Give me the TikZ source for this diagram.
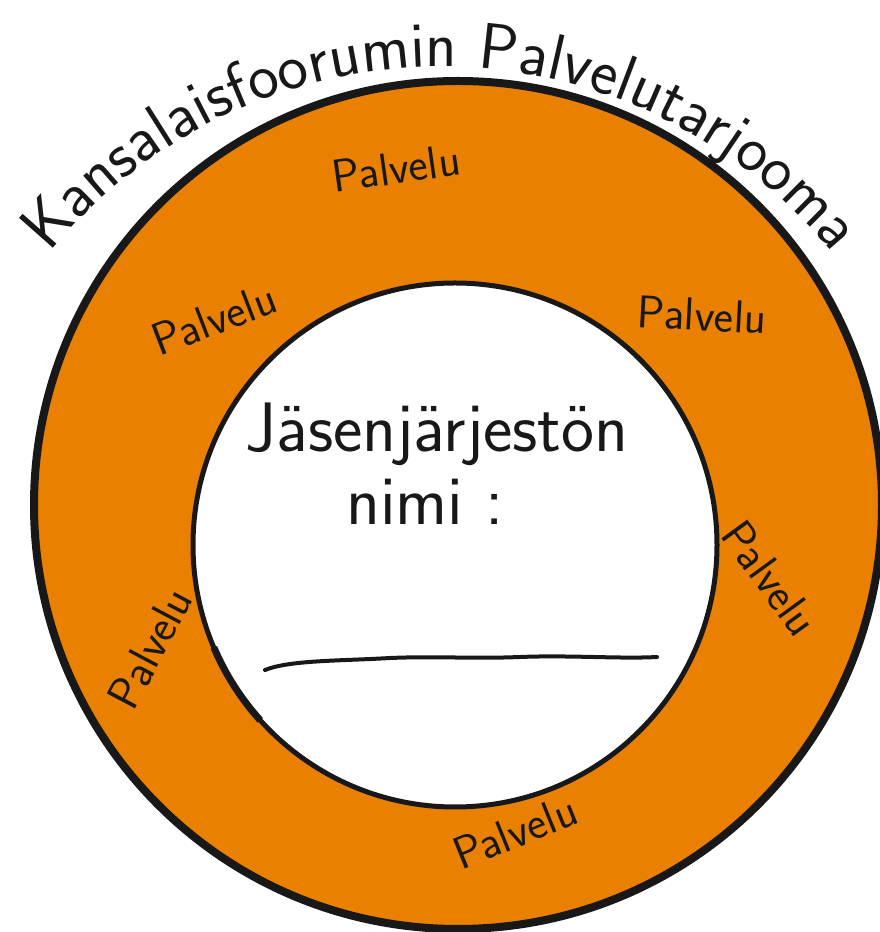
\documentclass[tikz,border=0pt]{standalone}
\usepackage{fontspec}
\usetikzlibrary{decorations.text}
\definecolor{ringorange}{RGB}{233,128,0}
\definecolor{ink}{RGB}{24,24,24}
\begin{document}
\begin{tikzpicture}[x=1pt,y=1pt,
  ringline/.style={draw=ink, line width=8pt},
  innerline/.style={draw=ink, line width=5pt},
  svc/.style={font=\sffamily\fontsize{46}{46}\selectfont, text=ink, inner sep=0pt},
  bigtext/.style={font=\sffamily\fontsize{70}{70}\selectfont, text=ink, inner sep=0pt, anchor=base},
  underline/.style={draw=ink, line width=4pt, line cap=round}]
\useasboundingbox (0,0) rectangle (880,932);
\clip (0,0) rectangle (880,932);
\coordinate (oc) at (458,427);
\coordinate (ic) at (455,387);
\coordinate (tc) at (441,361);
% rings
\path[fill=ringorange, ringline] (oc) circle[radius=424];
\path[fill=white, innerline] (ic) circle[radius=262];
\draw[ink, line width=7pt] (ic) ++(203:262) arc[start angle=203, end angle=222, radius=262];
% title along arc
\path[decorate, decoration={text along path, text align=center,
  text={|\sffamily\fontsize{65}{65}\selectfont\color{ink}|Kansalaisfoorumin Palvelutarjooma}}]
  (tc) ++(149:504) arc[start angle=149, end angle=31, radius=504];
% services
\node[svc, rotate=8]   (p1) at (396,764) {Palvelu};
\node[svc, rotate=21]  (p2) at (214,613) {Palvelu};
\node[svc, rotate=-3]  (p3) at (702,617) {Palvelu};
\node[svc, rotate=-54] (p4) at (770,354) {Palvelu};
\node[svc, rotate=62]  (p5) at (150,284) {Palvelu};
\node[svc, rotate=22]  (p6) at (515,100) {Palvelu};
% member organisation text
\node[bigtext] (name) at (437,480) {Jäsenjärjestön};
\node[bigtext] (nimi) at (425,407) {nimi :};
% hand drawn line
\coordinate (l0) at (265,262);
\coordinate (l1) at (657,275);
\draw[underline] (l0) .. controls (290,272) and (340,271) .. (390,274)
  .. controls (440,276) and (470,273) .. (520,275)
  .. controls (570,277) and (620,273) .. (l1);
\end{tikzpicture}
\end{document}
